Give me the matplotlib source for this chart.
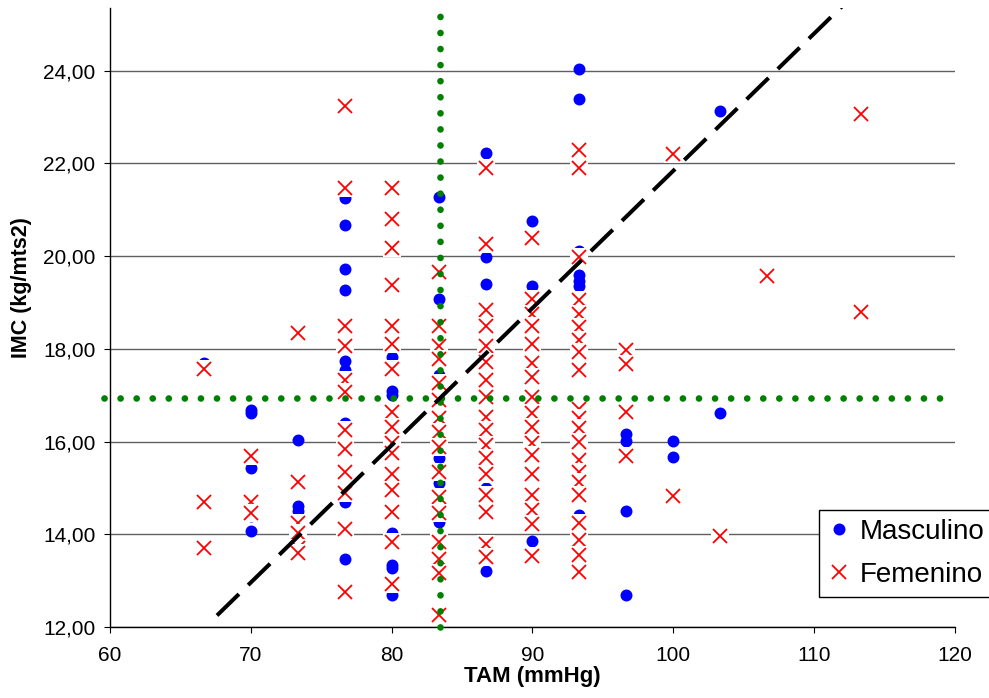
import matplotlib
matplotlib.use('Agg')
import matplotlib.pyplot as plt
from matplotlib.lines import Line2D
from matplotlib.ticker import FuncFormatter

plt.rcParams['font.family'] = ['Liberation Sans', 'DejaVu Sans']

# IMC values per TAM column
masculino = {
    66.67: [17.69],
    70.0: [16.68, 16.62, 15.42, 14.40, 14.08],
    73.33: [16.03, 14.61, 14.50],
    76.67: [21.25, 20.68, 19.73, 19.26, 17.73, 17.54, 16.40, 14.70, 13.47],
    80.0: [17.82, 17.10, 17.00, 14.02, 13.34, 13.28, 12.68],
    83.33: [21.27, 19.08, 17.43, 15.64, 15.10, 14.26],
    86.67: [22.22, 19.98, 19.39, 15.00, 13.20],
    90.0: [20.75, 19.35, 13.86],
    93.33: [24.03, 23.38, 20.10, 19.59, 19.47, 19.35, 14.41],
    96.67: [16.16, 16.01, 14.50, 12.69],
    100.0: [16.01, 15.67],
    103.33: [23.12, 16.61],
}

femenino = {
    66.67: [17.56, 14.69, 13.70],
    70.0: [15.69, 14.69, 14.45],
    73.33: [18.34, 15.12, 14.24, 14.02, 13.70, 13.59],
    76.67: [23.23, 21.46, 18.49, 18.06, 17.32, 17.07, 16.25, 15.84, 15.34,
            14.89, 14.11, 12.75],
    80.0: [21.46, 20.79, 20.18, 19.37, 18.49, 18.10, 17.56, 16.63, 16.31,
           15.97, 15.75, 15.31, 14.95, 14.48, 13.84, 12.93],
    83.33: [19.65, 18.49, 18.06, 17.77, 17.26, 16.89, 16.50, 16.20, 15.88,
            15.34, 14.80, 14.46, 13.84, 13.46, 13.16, 12.26],
    86.67: [21.89, 20.25, 18.83, 18.49, 18.06, 17.71, 17.32, 16.96, 16.53,
            16.25, 15.92, 15.64, 15.30, 14.84, 14.48, 13.79, 13.52],
    90.0: [20.39, 19.07, 18.76, 18.49, 18.10, 17.69, 17.39, 16.96, 16.61,
           16.31, 15.97, 15.71, 15.31, 14.84, 14.52, 14.22, 13.53],
    93.33: [22.28, 21.89, 19.98, 19.06, 18.76, 18.47, 18.20, 17.93, 17.54,
            16.71, 16.50, 16.29, 15.99, 15.60, 15.35, 15.12, 14.84, 14.24,
            13.88, 13.56, 13.19],
    96.67: [17.97, 17.67, 16.64, 15.69],
    100.0: [22.20, 14.82],
    103.33: [13.96],
    106.67: [19.56],
    113.33: [23.06, 18.79],
}

# reference lines: means and trend line
mean_tam = 83.43
mean_imc = 16.94
trend_slope = 0.296
trend_intercept = -7.76
trend_x = [67.6, 113.33]
mean_imc_x = [59.6, 119.3]

masc_x = [x for x, ys in masculino.items() for _ in ys]
masc_y = [y for ys in masculino.values() for y in ys]

fig = plt.figure(figsize=(9.89, 6.98), dpi=100)
ax = fig.add_axes([0.1112, 0.1017, 0.8544, 0.8868])

ax.set_xlim(60, 120)
ax.set_ylim(12, 25.35)
ax.set_xticks(range(60, 121, 10))
ax.set_yticks(range(12, 25, 2))
ax.yaxis.set_major_formatter(FuncFormatter(lambda v, p: f'{v:.2f}'.replace('.', ',')))

ax.set_axisbelow(True)
ax.yaxis.grid(True, color='#606060', linewidth=1.0)
ax.spines['top'].set_visible(False)
ax.spines['right'].set_visible(False)
for s in ('left', 'bottom'):
    ax.spines[s].set_linewidth(1.0)
    ax.spines[s].set_color('black')
ax.tick_params(axis='both', labelsize=15, length=4.5, width=0.8, direction='out')
ax.tick_params(axis='x', pad=9)
ax.tick_params(axis='y', pad=6)

# masculino dots
ax.plot(masc_x, masc_y, 'o', color='#0000ff', markersize=8.6,
        markeredgewidth=0, linestyle='none', zorder=3)

# femenino crosses, each on a white square so they hide what is below
for x, ys in femenino.items():
    for y in ys:
        ax.plot([x], [y], 's', color='white', markersize=13.5,
                markeredgewidth=0, zorder=4)
        ax.plot([x], [y], 'x', color='#ff0000', markersize=10,
                markeredgewidth=1.3, zorder=4)

# mean lines (green dotted)
green_style = dict(color='#008000', linewidth=4.8, linestyle=(0, (0.01, 2.4)),
                   dash_capstyle='round', zorder=5, clip_on=False)
ax.plot([mean_tam, mean_tam], [12, 25.35], **green_style)
ax.plot(mean_imc_x, [mean_imc, mean_imc], **green_style)

# trend line
tx = trend_x
ty = [trend_slope * v + trend_intercept for v in tx]
ax.plot(tx, ty, color='black', linewidth=2.9, linestyle=(0, (7.6, 3.2)),
        dash_capstyle='butt', zorder=6)

ax.set_xlabel('TAM (mmHg)', fontsize=16, fontweight='bold', labelpad=1)
ax.set_ylabel('IMC (kg/mts2)', fontsize=15.5, fontweight='bold')
ax.yaxis.set_label_coords(-0.092, 0.549)

handles = [
    Line2D([], [], marker='o', color='#0000ff', markersize=8.6,
           markeredgewidth=0, linestyle='none'),
    Line2D([], [], marker='x', color='#ff0000', markersize=10,
           markeredgewidth=1.3, linestyle='none'),
]
leg = ax.legend(handles, ['Masculino', 'Femenino'], loc='lower left',
                bbox_to_anchor=(0.828, 0.1447), bbox_transform=fig.transFigure,
                borderaxespad=0, fontsize=20, frameon=True, fancybox=False,
                edgecolor='black', framealpha=1, handlelength=0.8,
                handletextpad=0.35, borderpad=0.33, labelspacing=0.6)
leg.get_frame().set_linewidth(1.0)

fig.savefig('out.png', dpi=100)
